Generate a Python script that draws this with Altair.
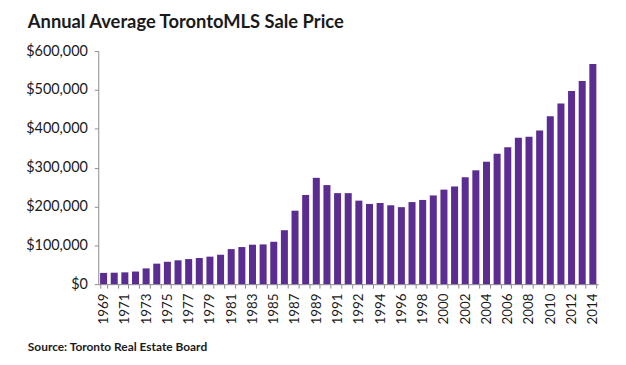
import json
import altair as alt
import pandas as pd

# ---- data -------------------------------------------------------------
years = [str(y) for y in range(1969, 1992)] + ["1991"] + [str(y) for y in range(1992, 2015)]
prices = [29000, 29500, 30400, 32500, 40600, 52800, 57600, 61400, 64600, 67300,
          70800, 75700, 90200, 95500, 101600, 102300, 109100, 138900, 189100, 229600,
          273700, 255000, 234300, 234300, 215000, 206500, 208900, 203000, 198200, 211300,
          216800, 228400, 243300, 251500, 275200, 293100, 315200, 335900, 352400, 377000,
          379300, 395500, 432300, 465000, 497300, 523000, 566700]
title_text = "Annual Average TorontoMLS Sale Price"
source_text = "Source: Toronto Real Estate Board"
y_ticks = [0, 100000, 200000, 300000, 400000, 500000, 600000]

df = pd.DataFrame({"idx": list(range(len(years))), "year": years, "price": prices})

# show every other label, as in the reference
shown = [y if i % 2 == 0 else "" for i, y in enumerate(years)]
label_expr = json.dumps(shown) + "[datum.value]"

FONT = "Lato"
PURPLE = "#5c2d91"
AXIS_GREY = "#8c8c8c"
TEXT = "#1a1a1a"

W, H = 504, 235

bars = alt.Chart(df).mark_bar(color=PURPLE).encode(
    x=alt.X(
        "idx:O",
        title=None,
        scale=alt.Scale(paddingInner=0.34, paddingOuter=0.17),
        axis=alt.Axis(
            labelExpr=label_expr,
            labelAngle=-90,
            labelAlign="right",
            labelBaseline="middle",
            labelFont=FONT,
            labelFontSize=13.5,
            labelColor=TEXT,
            labelPadding=5,
            labelOverlap=False,
            tickBand="extent",
            tickSize=4,
            tickColor=AXIS_GREY,
            domainColor=AXIS_GREY,
            grid=False,
        ),
    ),
    y=alt.Y(
        "price:Q",
        title=None,
        scale=alt.Scale(domain=[0, 600000], nice=False),
        axis=alt.Axis(
            values=y_ticks,
            format="$,d",
            labelFont=FONT,
            labelFontSize=14.5,
            labelColor=TEXT,
            labelPadding=7,
            tickSize=4,
            tickColor=AXIS_GREY,
            domainColor=AXIS_GREY,
            grid=False,
        ),
    ),
)

title = alt.Chart(pd.DataFrame({"t": [title_text]})).mark_text(
    align="left", baseline="alphabetic", font=FONT, fontSize=18.5, fontWeight="bold", color=TEXT
).encode(text="t:N", x=alt.value(-71), y=alt.value(-23))

source = alt.Chart(pd.DataFrame({"t": [source_text]})).mark_text(
    align="left", baseline="alphabetic", font=FONT, fontSize=12, fontWeight="bold", color=TEXT
).encode(text="t:N", x=alt.value(-71), y=alt.value(302))

chart = alt.layer(bars, title, source).properties(
    width=W,
    height=H,
    autosize=alt.AutoSizeParams(type="none"),
    padding={"left": 91, "top": 42, "right": 20, "bottom": 70},
    background="white",
).configure_view(stroke=None)

chart.save("out.html", embed_options={"renderer": "svg", "actions": False})
